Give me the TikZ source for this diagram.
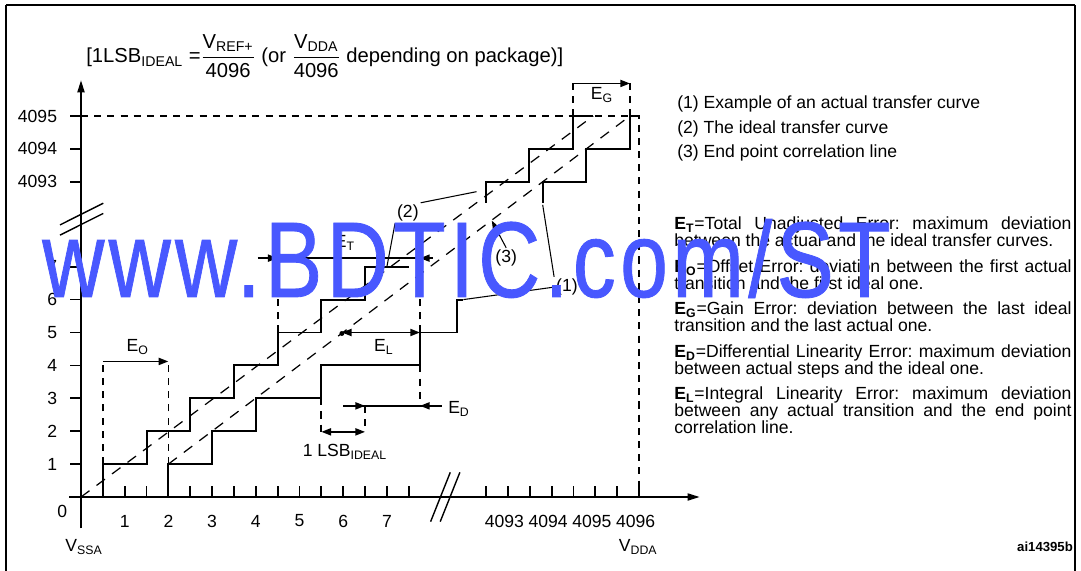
\documentclass[tikz,border=0pt]{standalone}
\usepackage{fontspec}
\setmainfont{Liberation Sans}
\usetikzlibrary{arrows.meta}

\definecolor{stamp}{RGB}{72,88,255}

\tikzset{
  stair/.style={line width=1.1pt},
  guide/.style={line width=1pt, dash pattern=on 4pt off 3.5pt},
  fitline/.style={line width=0.7pt, dash pattern=on 6pt off 5pt},
  lead/.style={line width=0.6pt},
  tip/.style={-{Triangle[length=5.5pt,width=4pt]}},
  twotip/.style={{Triangle[length=5.5pt,width=4pt]}-{Triangle[length=5.5pt,width=4pt]}},
  err/.style={line width=1pt},
  lbl/.style={font=\fontsize{10}{12}\selectfont, inner sep=1pt},
  para/.style={font=\fontsize{10}{9.7}\selectfont\frenchspacing, text width=226pt, align=justify, anchor=north west, inner sep=0pt},
}

\begin{document}
\begin{tikzpicture}[x=0.874cm, y=0.658cm]
\def\xe{7.757}
\useasboundingbox (-1.8535,-2.249) rectangle (22.883,15.106);

% frame
\draw[line width=0.6pt] (-1.716,-2.249) -- (-1.716,14.954);
\draw[line width=0.6pt] (22.746,-2.249) -- (22.746,14.954);
\draw[line width=1.1pt] (-1.716,14.954) -- (22.746,14.954);

% formula
\node[font=\fontsize{11.5}{13}\selectfont, inner sep=0pt] (lsbnote) at (5.58,13.40)
  {[1LSB\textsubscript{IDEAL} =$\displaystyle\frac{\mbox{V\textsubscript{REF+}}}{\mbox{4096}}$ (or $\displaystyle\frac{\mbox{V\textsubscript{DDA}}}{\mbox{4096}}$ depending on package)]};

% axes
\draw[line width=1.1pt, -{Triangle[length=7pt,width=4pt]}] (0,-0.95) -- (0,12.67);
\draw[line width=1.1pt, -{Triangle[length=7pt,width=4pt]}] (-0.27,0) -- (14.16,0);
\foreach \t in {0.5,1,...,7.5} \draw[line width=1pt] (\t,0) -- (\t,0.33);
\foreach \t in {9.27,9.77,10.27,10.77,11.27,11.77,12.27,12.77} \draw[line width=1pt] (\t,0) -- (\t,0.33);
\foreach \k in {1,...,7} {
  \draw[line width=1pt] (-0.25,\k) -- (0,\k);
  \node[lbl, anchor=east] (ylab\k) at (-0.5,\k) {\k};
  \node[lbl] (xlab\k) at (\k,-0.73) {\k};
}
\foreach \y/\v in {9.58/4093,10.58/4094,11.58/4095} {
  \draw[line width=1pt] (-0.25,\y) -- (0,\y);
  \node[lbl, anchor=east] (ylab\v) at (-0.5,\y) {\v};
}
\foreach \t/\v in {9.77/4093,10.77/4094,11.77/4095,12.77/4096}
  \node[lbl] (xlab\v) at ({\t-0.08},-0.73) {\v};
\node[lbl] (zero) at (-0.43,-0.43) {0};
\node[lbl] (vssa) at (0.07,-1.52) {V\textsubscript{SSA}};
\node[lbl] (vdda) at (12.75,-1.52) {V\textsubscript{DDA}};

% breaks
\draw[line width=0.8pt] (8.0,-0.75) -- (8.45,0.75);
\draw[line width=0.8pt] (8.22,-0.75) -- (8.67,0.75);
\draw[line width=0.8pt] (-0.48,8.27) -- (0.51,8.93);
\draw[line width=0.8pt] (-0.48,7.96) -- (0.51,8.62);

% dashed guides
\draw[guide] (0,11.58) -- (12.77,11.58) -- (12.77,0);
\draw[guide] (11.26,11.58) -- (11.26,12.58);
\draw[guide] (12.56,11.58) -- (12.56,12.58);
\draw[guide] (0.5,1) -- (0.5,4.12);
\draw[guide] (2,1) -- (2,4.12);
\draw[guide] (4.5,5) -- (4.5,7.26);
\draw[guide] (\xe,5) -- (\xe,7.26);
\draw[guide] (\xe,4) -- (\xe,2.77);
\draw[guide] (5.5,3) -- (5.5,1.98);
\draw[guide] (6.5,2.77) -- (6.5,1.98);

% ideal line and end point correlation line
\draw[fitline] (0,0) -- (11.72,11.58);
\draw[fitline] (2,1) -- (12.56,11.58);

% ideal transfer curve
\draw[stair] (0.5,0) -- (0.5,1) -- (1.5,1) -- (1.5,2) -- (2.5,2) -- (2.5,3) -- (3.5,3) -- (3.5,4)
  -- (4.5,4) -- (4.5,5) -- (5.5,5) -- (5.5,6) -- (6.5,6) -- (6.5,7) -- (7.5,7);
\draw[stair] (9.26,8.94) -- (9.26,9.58) -- (10.26,9.58) -- (10.26,10.58) -- (11.26,10.58) -- (11.26,11.58) -- (11.72,11.58);

% actual transfer curve
\draw[stair] (2,0) -- (2,1) -- (3,1) -- (3,2) -- (4,2) -- (4,3) -- (5.5,3) -- (5.5,4)
  -- (\xe,4) -- (\xe,5) -- (8.6,5) -- (8.6,6) -- (8.75,6);
\draw[stair] (10.565,8.94) -- (10.565,9.58) -- (11.55,9.58) -- (11.55,10.58) -- (12.56,10.58) -- (12.56,11.58) -- (12.77,11.58);

% error arrows
\draw[err, tip] (0.5,4.12) -- (2,4.12);
\node[lbl] (eo) at (1.3,4.56) {E\textsubscript{O}};
\draw[err, tip] (11.243,12.57) -- (12.563,12.57);
\node[lbl] (eg) at (11.92,12.22) {E\textsubscript{G}};
\draw[err] (4.05,7.26) -- (8.05,7.26);
\draw[err, tip] (4.05,7.26) -- (4.5,7.26);
\draw[err, tip] (8.05,7.26) -- (\xe,7.26);
\node[lbl] (et) at (6.04,7.72) {E\textsubscript{T}};
\draw[err, twotip] (5.97,5) -- (\xe,5);
\fill (5.97,4.97) circle (1.4pt);
\node[lbl] (el) at (6.93,4.56) {E\textsubscript{L}};
\draw[err] (6.0,2.77) -- (8.25,2.77);
\draw[err, tip] (6.0,2.77) -- (6.5,2.77);
\draw[err, tip] (8.25,2.77) -- (\xe,2.77);
\node[lbl] (ed) at (8.65,2.68) {E\textsubscript{D}};
\draw[err, twotip] (5.5,1.98) -- (6.5,1.98);
\node[lbl] (lsb) at (6.04,1.37) {1 LSB\textsubscript{IDEAL}};

% curve labels
\coordinate (ideal7) at (7.0,7.0);
\coordinate (idealhi) at (9.05,9.28);
\coordinate (actlo) at (8.75,6);
\coordinate (acthi) at (10.565,8.88);
\coordinate (fitpt) at (9.4,8.4);
\node[lbl] (lab2) at (7.48,8.63) {(2)};
\draw[lead] (lab2.north east) -- (idealhi);
\draw[lead] (lab2.south west) -- (ideal7);
\node[lbl] (lab1) at (11.12,6.38) {(1)};
\draw[lead] (lab1.west) -- (actlo);
\draw[lead] (lab1.north west) -- (acthi);
\node[lbl] (lab3) at (9.73,7.26) {(3)};
\draw[lead, tip] (lab3.north) -- (fitpt);

% legend
\node[lbl, anchor=west, inner sep=0pt] (leg1) at (13.638,11.945) {(1) Example of an actual transfer curve};
\node[lbl, anchor=west, inner sep=0pt] (leg2) at (13.638,11.185) {(2) The ideal transfer curve};
\node[lbl, anchor=west, inner sep=0pt] (leg3) at (13.638,10.456) {(3) End point correlation line};

\node[para] (defT) at (13.57,8.526) {\textbf{E\textsubscript{T}}=Total Unadjusted Error: maximum deviation\linebreak between the actual and the ideal transfer curves.};
\node[para] (defO) at (13.57,7.219) {\textbf{E\textsubscript{O}}=Offset Error: deviation between the first actual\linebreak transition and the first ideal one.};
\node[para] (defG) at (13.57,5.942) {\textbf{E\textsubscript{G}}=Gain Error: deviation between the last ideal\linebreak transition and the last actual one.};
\node[para] (defD) at (13.57,4.635) {\textbf{E\textsubscript{D}}=Differential Linearity Error: maximum deviation\linebreak between actual steps and the ideal one.};
\node[para] (defL) at (13.57,3.359) {\textbf{E\textsubscript{L}}=Integral Linearity Error: maximum deviation\linebreak between any actual transition and the end point\linebreak correlation line.};

\node[font=\fontsize{7.5}{9}\selectfont\bfseries, inner sep=0pt] (figid) at (22.06,-1.52) {ai14395b};

% watermark
\node[anchor=base west, inner sep=0pt, text=stamp, xscale=0.8,
  font=\fontsize{61.2}{70}\selectfont\addfontfeature{LetterSpace=5,FakeBold=0.8}] (stampnode) at (-0.892,6.08) {www.BDTIC.com/ST};
\end{tikzpicture}
\end{document}
